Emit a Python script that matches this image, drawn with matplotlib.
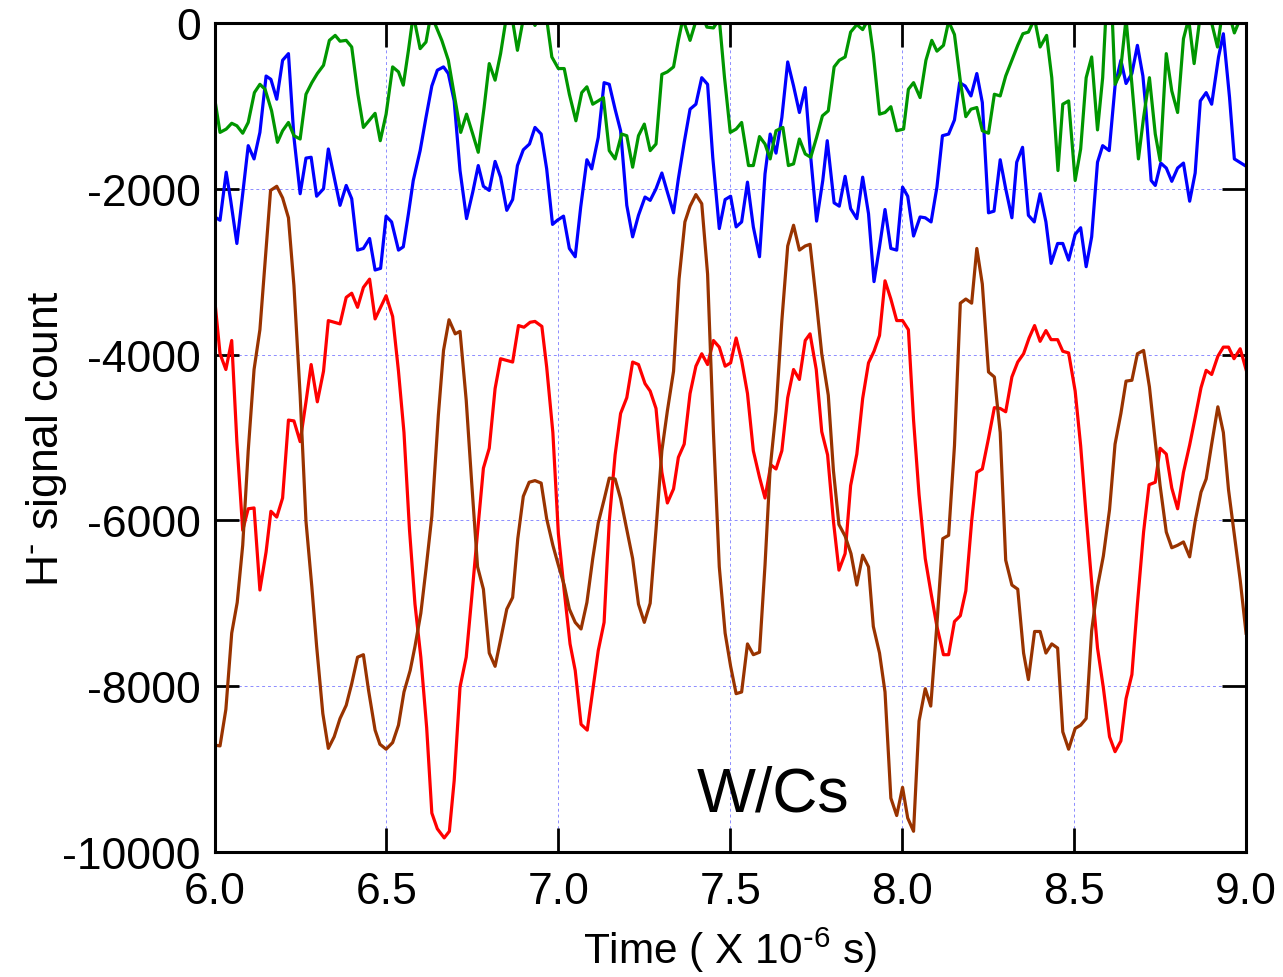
import matplotlib
matplotlib.use("Agg")
import matplotlib.pyplot as plt

plt.rcParams['font.family'] = ['Liberation Sans', 'DejaVu Sans']
plt.rcParams['mathtext.default'] = 'regular'
plt.rcParams['axes.unicode_minus'] = False

# values (time in microseconds, H- signal count)
green_x = [6.000, 6.016, 6.034, 6.050, 6.065, 6.082, 6.098, 6.116, 6.132, 6.147, 6.166, 6.183, 6.198, 6.215,
           6.231, 6.249, 6.266, 6.283, 6.299, 6.317, 6.334, 6.351, 6.365, 6.383, 6.399, 6.417, 6.433, 6.451,
           6.467, 6.482, 6.499, 6.518, 6.535, 6.549, 6.564, 6.578, 6.598, 6.615, 6.627, 6.641, 6.661, 6.680,
           6.697, 6.716, 6.733, 6.751, 6.767, 6.784, 6.799, 6.816, 6.832, 6.848, 6.864, 6.881, 6.898, 6.916,
           6.932, 6.949, 6.966, 6.981, 7.000, 7.017, 7.032, 7.051, 7.068, 7.083, 7.100, 7.116, 7.131, 7.148,
           7.165, 7.184, 7.199, 7.216, 7.233, 7.250, 7.267, 7.284, 7.301, 7.317, 7.335, 7.349, 7.362, 7.383,
           7.402, 7.417, 7.432, 7.451, 7.468, 7.483, 7.500, 7.517, 7.533, 7.553, 7.567, 7.585, 7.601, 7.616,
           7.633, 7.653, 7.669, 7.684, 7.701, 7.718, 7.734, 7.751, 7.768, 7.785, 7.802, 7.817, 7.834, 7.850,
           7.868, 7.885, 7.902, 7.916, 7.934, 7.950, 7.967, 7.984, 8.004, 8.018, 8.033, 8.052, 8.069, 8.086,
           8.101, 8.120, 8.135, 8.152, 8.169, 8.185, 8.200, 8.217, 8.233, 8.251, 8.268, 8.285, 8.301, 8.319,
           8.336, 8.351, 8.367, 8.385, 8.401, 8.420, 8.435, 8.453, 8.467, 8.484, 8.503, 8.519, 8.535, 8.551,
           8.568, 8.583, 8.593, 8.610, 8.619, 8.634, 8.651, 8.668, 8.687, 8.702, 8.719, 8.736, 8.750, 8.768,
           8.784, 8.801, 8.818, 8.833, 8.849, 8.867, 8.884, 8.900, 8.917, 8.930, 8.948, 8.966, 8.983, 9.000]
green_y = [-900, -1320, -1280, -1210, -1240, -1330, -1200, -840, -740, -800, -1060, -1440, -1300, -1200,
           -1360, -1400, -860, -720, -610, -510, -210, -150, -220, -210, -290, -860, -1260, -1170,
           -1090, -1420, -1100, -530, -590, -750, -330, 100, -310, -230, 50, -10, -210, -450,
           -860, -1320, -1100, -1340, -1560, -1020, -490, -690, -370, 50, 100, -330, 50, 100,
           -30, 100, 50, -410, -550, -550, -860, -1180, -840, -770, -980, -940, -900, -1540,
           -1640, -1340, -1360, -1740, -1360, -1220, -1540, -1460, -620, -590, -530, -210, 50, -210,
           50, 100, -50, -60, 50, -650, -1320, -1280, -1200, -1720, -1720, -1370, -1460, -1640,
           -1300, -1260, -1720, -1700, -1400, -1580, -1620, -1380, -1120, -1060, -530, -450, -410, -110,
           -20, -80, 50, -370, -1100, -1080, -1010, -1300, -1280, -800, -720, -900, -450, -210,
           -340, -270, 20, -140, -700, -1130, -1040, -1020, -1300, -1330, -860, -880, -640, -450,
           -270, -130, -110, 50, -290, -150, -660, -1780, -980, -940, -1900, -1520, -660, -410,
           -1290, -660, 150, 150, -740, -610, 50, -740, -1640, -1140, -660, -1340, -1660, -370,
           -820, -1080, -190, 50, -490, 100, 150, 0, -290, 100, 150, -120, 50, 0]

blue_x = [6.001, 6.016, 6.034, 6.047, 6.065, 6.082, 6.098, 6.115, 6.132, 6.150, 6.164, 6.181, 6.198, 6.215,
          6.231, 6.249, 6.266, 6.281, 6.297, 6.317, 6.331, 6.348, 6.365, 6.383, 6.399, 6.416, 6.433, 6.451,
          6.467, 6.483, 6.499, 6.515, 6.535, 6.549, 6.564, 6.578, 6.598, 6.615, 6.632, 6.648, 6.666, 6.680,
          6.697, 6.714, 6.733, 6.751, 6.767, 6.782, 6.799, 6.816, 6.832, 6.850, 6.867, 6.881, 6.898, 6.916,
          6.932, 6.950, 6.966, 6.983, 6.997, 7.015, 7.032, 7.049, 7.065, 7.083, 7.097, 7.116, 7.133, 7.148,
          7.165, 7.181, 7.199, 7.216, 7.233, 7.252, 7.267, 7.284, 7.301, 7.317, 7.335, 7.349, 7.366, 7.383,
          7.400, 7.417, 7.434, 7.449, 7.468, 7.485, 7.501, 7.517, 7.533, 7.550, 7.567, 7.585, 7.601, 7.616,
          7.633, 7.650, 7.667, 7.684, 7.701, 7.718, 7.734, 7.751, 7.769, 7.782, 7.802, 7.817, 7.834, 7.850,
          7.868, 7.885, 7.902, 7.918, 7.934, 7.950, 7.967, 7.984, 8.001, 8.016, 8.033, 8.052, 8.067, 8.084,
          8.101, 8.117, 8.135, 8.152, 8.167, 8.183, 8.200, 8.217, 8.233, 8.251, 8.267, 8.285, 8.301, 8.319,
          8.333, 8.350, 8.367, 8.384, 8.401, 8.418, 8.433, 8.452, 8.467, 8.484, 8.503, 8.519, 8.535, 8.551,
          8.568, 8.583, 8.602, 8.619, 8.636, 8.651, 8.668, 8.684, 8.700, 8.708, 8.724, 8.736, 8.752, 8.768,
          8.784, 8.801, 8.818, 8.836, 8.852, 8.867, 8.884, 8.900, 8.920, 8.934, 8.952, 8.966, 8.997]
blue_y = [-2340, -2380, -1800, -2140, -2660, -2060, -1480, -1640, -1320, -640, -680, -920, -450, -370,
          -1380, -2060, -1630, -1620, -2090, -2000, -1520, -1860, -2200, -1960, -2120, -2740, -2720, -2600,
          -2980, -2960, -2330, -2400, -2740, -2700, -2300, -1900, -1540, -1140, -760, -570, -530, -610,
          -940, -1780, -2360, -2040, -1720, -1970, -2020, -1670, -1860, -2260, -2130, -1720, -1530, -1460,
          -1260, -1340, -1760, -2430, -2380, -2330, -2720, -2820, -2220, -1650, -1760, -1380, -720, -740,
          -1040, -1300, -2200, -2580, -2320, -2100, -2140, -2000, -1810, -2040, -2290, -1880, -1440, -1040,
          -980, -660, -740, -1620, -2480, -2130, -2090, -2460, -2400, -1920, -2460, -2820, -1820, -1340,
          -1570, -1140, -470, -760, -1080, -780, -1620, -2390, -1900, -1420, -2170, -2210, -1850, -2240,
          -2360, -1860, -2300, -3120, -2700, -2250, -2720, -2740, -1980, -2090, -2570, -2340, -2350, -2400,
          -1980, -1360, -1340, -1170, -720, -760, -880, -610, -960, -2290, -2270, -1650, -2000, -2350,
          -1680, -1500, -2320, -2400, -2060, -2400, -2900, -2660, -2660, -2860, -2550, -2470, -2940, -2580,
          -1680, -1480, -1540, -760, -450, -730, -610, -270, -640, -1000, -1900, -1960, -1690, -1750,
          -1910, -1750, -1690, -2150, -1810, -940, -840, -980, -410, -130, -900, -1640, -1720]

red_x = [5.999, 6.016, 6.033, 6.050, 6.065, 6.082, 6.098, 6.115, 6.132, 6.150, 6.164, 6.181, 6.198, 6.215,
         6.231, 6.249, 6.266, 6.281, 6.299, 6.317, 6.331, 6.348, 6.365, 6.383, 6.399, 6.416, 6.433, 6.451,
         6.467, 6.483, 6.499, 6.518, 6.535, 6.551, 6.567, 6.583, 6.600, 6.617, 6.632, 6.648, 6.668, 6.683,
         6.697, 6.714, 6.732, 6.748, 6.765, 6.782, 6.799, 6.816, 6.832, 6.850, 6.867, 6.884, 6.900, 6.918,
         6.932, 6.952, 6.966, 6.984, 7.000, 7.017, 7.034, 7.049, 7.066, 7.084, 7.100, 7.116, 7.133, 7.148,
         7.165, 7.181, 7.199, 7.216, 7.233, 7.252, 7.267, 7.284, 7.301, 7.317, 7.335, 7.349, 7.366, 7.383,
         7.400, 7.417, 7.434, 7.451, 7.468, 7.485, 7.501, 7.517, 7.533, 7.550, 7.567, 7.585, 7.601, 7.618,
         7.633, 7.650, 7.667, 7.684, 7.701, 7.718, 7.732, 7.750, 7.766, 7.783, 7.800, 7.816, 7.834, 7.850,
         7.868, 7.885, 7.902, 7.918, 7.934, 7.950, 7.967, 7.984, 8.001, 8.018, 8.033, 8.049, 8.067, 8.084,
         8.101, 8.120, 8.135, 8.152, 8.169, 8.185, 8.202, 8.217, 8.233, 8.251, 8.268, 8.285, 8.301, 8.319,
         8.336, 8.353, 8.369, 8.385, 8.401, 8.418, 8.433, 8.452, 8.467, 8.484, 8.503, 8.519, 8.535, 8.551,
         8.568, 8.585, 8.603, 8.619, 8.636, 8.651, 8.668, 8.684, 8.702, 8.718, 8.736, 8.750, 8.768, 8.784,
         8.801, 8.818, 8.836, 8.852, 8.869, 8.884, 8.900, 8.918, 8.934, 8.949, 8.965, 8.983, 9.000]
red_y = [-3270, -3990, -4180, -3830, -5050, -6120, -5860, -5850, -6840, -6380, -5890, -5960, -5730, -4790,
         -4800, -5050, -4570, -4120, -4570, -4200, -3590, -3610, -3630, -3310, -3260, -3430, -3190, -3090,
         -3570, -3430, -3290, -3540, -4200, -4940, -6110, -7010, -7650, -8500, -9530, -9720, -9830, -9750,
         -9140, -8010, -7650, -6930, -6140, -5370, -5130, -4410, -4050, -4070, -4090, -3650, -3670, -3610,
         -3600, -3660, -4150, -4940, -6160, -6850, -7490, -7810, -8460, -8530, -8050, -7570, -7230, -6010,
         -5210, -4710, -4520, -4090, -4120, -4350, -4440, -4650, -5420, -5790, -5620, -5240, -5080, -4470,
         -4140, -3990, -4120, -3830, -3910, -4140, -4100, -3800, -4070, -4470, -5160, -5480, -5730, -5330,
         -5380, -5160, -4520, -4180, -4300, -3830, -3750, -4180, -4930, -5210, -6010, -6600, -6400, -5580,
         -5200, -4530, -4100, -3960, -3770, -3110, -3330, -3590, -3590, -3700, -4790, -5690, -6460, -6880,
         -7280, -7620, -7620, -7220, -7150, -6850, -6010, -5420, -5380, -5010, -4640, -4650, -4690, -4270,
         -4090, -3990, -3800, -3650, -3840, -3710, -3820, -3820, -3960, -3980, -4440, -5100, -5950, -6750,
         -7540, -8020, -8610, -8790, -8660, -8150, -7860, -7010, -6140, -5570, -5540, -5130, -5200, -5610,
         -5860, -5420, -5090, -4760, -4400, -4190, -4240, -4020, -3910, -3910, -4050, -3930, -4180]

brown_x = [5.999, 6.016, 6.033, 6.050, 6.066, 6.082, 6.098, 6.115, 6.132, 6.147, 6.163, 6.181, 6.198, 6.215,
           6.231, 6.249, 6.266, 6.283, 6.297, 6.315, 6.331, 6.348, 6.365, 6.383, 6.399, 6.416, 6.433, 6.448,
           6.467, 6.481, 6.499, 6.518, 6.535, 6.551, 6.569, 6.583, 6.600, 6.615, 6.632, 6.651, 6.666, 6.682,
           6.700, 6.714, 6.732, 6.748, 6.765, 6.782, 6.799, 6.816, 6.832, 6.850, 6.867, 6.882, 6.898, 6.915,
           6.932, 6.950, 6.966, 6.984, 7.000, 7.017, 7.032, 7.049, 7.066, 7.083, 7.100, 7.116, 7.133, 7.148,
           7.165, 7.181, 7.199, 7.216, 7.233, 7.250, 7.267, 7.284, 7.301, 7.317, 7.335, 7.351, 7.368, 7.383,
           7.400, 7.417, 7.434, 7.451, 7.468, 7.485, 7.501, 7.517, 7.533, 7.550, 7.567, 7.585, 7.601, 7.616,
           7.633, 7.650, 7.667, 7.684, 7.701, 7.718, 7.732, 7.750, 7.766, 7.785, 7.800, 7.816, 7.834, 7.851,
           7.868, 7.885, 7.902, 7.916, 7.934, 7.950, 7.967, 7.984, 8.001, 8.016, 8.033, 8.049, 8.067, 8.083,
           8.101, 8.118, 8.135, 8.152, 8.169, 8.185, 8.202, 8.217, 8.233, 8.251, 8.268, 8.285, 8.301, 8.319,
           8.336, 8.353, 8.367, 8.385, 8.401, 8.418, 8.435, 8.452, 8.467, 8.484, 8.503, 8.519, 8.535, 8.551,
           8.568, 8.585, 8.603, 8.619, 8.636, 8.651, 8.668, 8.684, 8.702, 8.719, 8.736, 8.750, 8.768, 8.784,
           8.801, 8.818, 8.836, 8.852, 8.869, 8.884, 8.900, 8.918, 8.934, 8.949, 8.965, 8.983, 9.000]
brown_y = [-8710, -8720, -8280, -7360, -6990, -6300, -5160, -4180, -3700, -2880, -2020, -1970, -2110, -2350,
           -3170, -4490, -6010, -6800, -7520, -8330, -8750, -8610, -8390, -8230, -7970, -7650, -7620, -8050,
           -8530, -8700, -8760, -8680, -8470, -8070, -7810, -7520, -7120, -6590, -5950, -4730, -3950, -3580,
           -3750, -3720, -4550, -5550, -6560, -6830, -7600, -7760, -7440, -7070, -6930, -6220, -5710, -5540,
           -5520, -5550, -5980, -6300, -6540, -6780, -7070, -7230, -7310, -6990, -6460, -6030, -5750, -5490,
           -5500, -5740, -6110, -6460, -7010, -7230, -7000, -6110, -5160, -4680, -4200, -3090, -2400, -2210,
           -2070, -2180, -3030, -4940, -6560, -7360, -7760, -8090, -8070, -7490, -7620, -7590, -6540, -5370,
           -4680, -3590, -2690, -2440, -2740, -2690, -2670, -3350, -3990, -4490, -5400, -6050, -6190, -6400,
           -6780, -6420, -6560, -7280, -7600, -8070, -9350, -9560, -9220, -9590, -9750, -8420, -8030, -8240,
           -7250, -6220, -6180, -5100, -3380, -3330, -3380, -2720, -3150, -4210, -4270, -4940, -6480, -6780,
           -6830, -7600, -7920, -7340, -7340, -7600, -7490, -7540, -8550, -8760, -8510, -8470, -8390, -7330,
           -6800, -6430, -5870, -5080, -4710, -4320, -4310, -3990, -3950, -4390, -5050, -5580, -6140, -6330,
           -6300, -6260, -6440, -6010, -5660, -5500, -5080, -4630, -4940, -5630, -6140, -6720, -7360]

x_ticks = [6.0, 6.5, 7.0, 7.5, 8.0, 8.5, 9.0]
y_ticks = [0, -2000, -4000, -6000, -8000, -10000]

fig = plt.figure(figsize=(12.83, 9.78), dpi=100)
ax = fig.add_axes([0.1672, 0.1278, 0.8040, 0.8477])

ax.plot(red_x, red_y, color='#ff0000', lw=2.3)
ax.plot(brown_x, brown_y, color='#993300', lw=2.3)
ax.plot(blue_x, blue_y, color='#0000ff', lw=2.3)
ax.plot(green_x, green_y, color='#009600', lw=2.3)

ax.set_xlim(6.0, 9.0)
ax.set_ylim(-10000, 0)
ax.set_xticks(x_ticks)
ax.set_xticklabels(['%.1f' % v for v in x_ticks])
ax.set_yticks(y_ticks)
ax.set_yticklabels([str(v) for v in y_ticks])
ax.grid(True, color='#8c8cff', lw=0.7, ls=(0, (3, 3)))

ax.tick_params(direction='in', length=17, width=2, top=True, right=True, labelsize=32)
ax.tick_params(axis='x', pad=14)
ax.tick_params(axis='y', pad=10)
for s in ax.spines.values():
    s.set_linewidth(2.2)

ax.set_xlabel(r'Time ( X 10$^{\text{-}6}$ s)', fontsize=30.5, labelpad=9)
ax.set_ylabel(r'H$^{\text{-}}$ signal count', fontsize=32, labelpad=-5)
ax.text(7.625, -9300, 'W/Cs', fontsize=45, ha='center', va='center')

fig.savefig('out.png', dpi=100)
